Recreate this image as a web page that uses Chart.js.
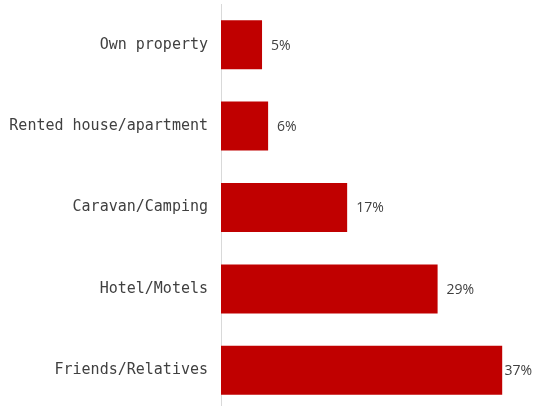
<!DOCTYPE html>
<html>
<head>
<meta charset="utf-8">
<script src="https://cdn.jsdelivr.net/npm/chart.js@4/dist/chart.umd.min.js"></script>
<style>
  html, body { margin: 0; padding: 0; background: #fff; overflow: hidden; }
  #wrap { width: 533px; height: 411px; }
</style>
</head>
<body>
<div id="wrap"><canvas id="myChart"></canvas></div>
<script>
const categories = [
  'Own property',
  'Rented house/apartment',
  'Caravan/Camping',
  'Hotel/Motels',
  'Friends/Relatives',
];
// bar lengths
const shares = [5.4, 6.2, 16.6, 28.5, 37.0];
// value labels as printed on the picture
const shareLabels = ['5%', '6%', '17%', '29%', '37%'];

// value labels to the right of each bar
const valueLabels = {
  id: 'valueLabels',
  afterDatasetsDraw(chart) {
    const ctx = chart.ctx;
    const meta = chart.getDatasetMeta(0);
    ctx.save();
    ctx.font = '14px "Open Sans", sans-serif';
    ctx.fillStyle = '#404040';
    ctx.textBaseline = 'middle';
    ctx.textAlign = 'left';
    meta.data.forEach((bar, i) => {
      const txt = shareLabels[i];
      const w = ctx.measureText(txt).width;
      let x = bar.x + 9;
      if (x + w > chart.width - 1) x = chart.width - 1 - w;
      ctx.fillText(txt, x, bar.y + 1);
    });
    ctx.restore();
  }
};

const ctx = document.getElementById('myChart').getContext('2d');
const myChart = new Chart(ctx, {
  type: 'bar',
  data: {
    labels: categories,
    datasets: [{
      data: shares,
      backgroundColor: '#C00000',
      categoryPercentage: 1,
      barPercentage: 0.602,
    }],
  },
  options: {
    indexAxis: 'y',
    responsive: true,
    maintainAspectRatio: false,
    animation: false,
    layout: { padding: { top: 4, right: 8, bottom: 0, left: 0 } },
    plugins: {
      legend: { display: false },
      tooltip: { enabled: false },
    },
    scales: {
      x: {
        display: false,
        min: 0,
        max: 40,
      },
      y: {
        afterFit(scale) {
          scale.width = 221;
          scale.paddingTop = 0;
          scale.paddingBottom = 0;
        },
        grid: { display: false, drawTicks: false },
        border: { display: true, color: '#d9d9d9', width: 1 },
        ticks: {
          padding: 13,
          color: '#404040',
          font: { family: '"DejaVu Sans Mono", monospace', size: 15 },
        },
      },
    },
  },
  plugins: [valueLabels],
});
</script>
</body>
</html>
